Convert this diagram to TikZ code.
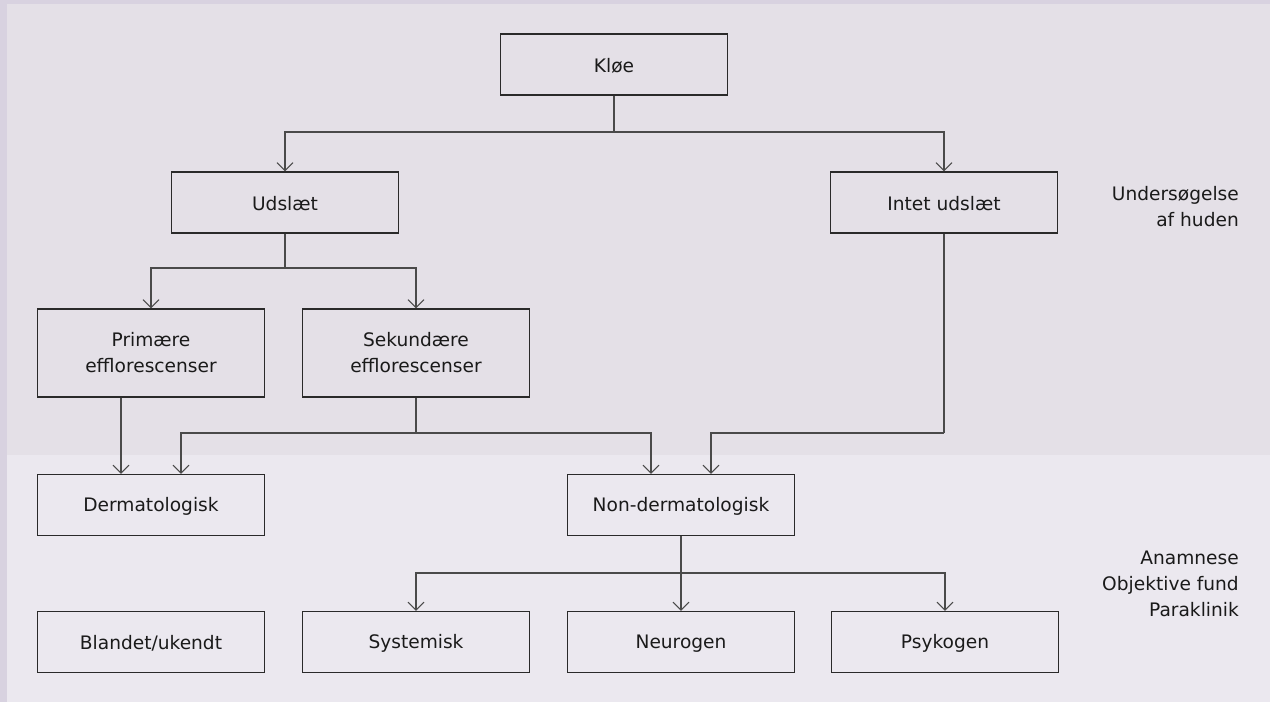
\documentclass[tikz,border=0pt]{standalone}
\usepackage{fontspec}
\setmainfont{DejaVu Sans}
\usetikzlibrary{arrows.meta,positioning}
\definecolor{outerbg}{HTML}{D8D2E0}
\definecolor{upperbg}{HTML}{E4E0E7}
\definecolor{lowerbg}{HTML}{EBE8EF}
\definecolor{linec}{HTML}{4A4A4A}
\definecolor{boxc}{HTML}{2A2A2A}
\definecolor{txt}{HTML}{1A1A1A}
\newcommand\boxstrut{\rule[-2pt]{0pt}{19pt}}
\tikzset{
  basebox/.style={draw=boxc, line width=1.1pt, minimum width=227pt, minimum height=61pt,
    inner sep=0pt, align=center, text=txt,
    font=\fontsize{18.6}{26}\selectfont},
  box/.style={basebox, execute at begin node=\boxstrut},
  tallbox/.style={basebox, minimum height=88pt},
  conn/.style={draw=linec, line width=1.1pt},
  arr/.style={conn, -{Straight Barb[length=8pt,width=16pt,line width=1.1pt]}},
  side/.style={anchor=east, align=right, text=txt, inner sep=0pt,
    font=\fontsize{18.6}{26}\selectfont}
}
\begin{document}
\begin{tikzpicture}[x=1pt,y=-1pt]
\useasboundingbox (0,0) rectangle (1270,702);
\fill[outerbg] (0,0) rectangle (1270,702);
\fill[upperbg] (7,4) rectangle (1270,455);
\fill[lowerbg] (7,455) rectangle (1270,702);

\node[box] (kloe) at (614,64.5) {Kløe};
\node[box] (udslaet) at (285,202.5) {Udslæt};
\node[box] (intet) at (944,202.5) {Intet udslæt};
\node[tallbox] (prim) at (151,353) {Primære\\efflorescenser};
\node[tallbox] (sek) at (416,353) {Sekundære\\efflorescenser};
\node[box] (derm) at (151,505) {Dermatologisk};
\node[box] (nonderm) at (681,505) {Non-dermatologisk};
\node[box] (bland) at (151,642) {Blandet/ukendt};
\node[box] (syst) at (416,642) {Systemisk};
\node[box] (neuro) at (681,642) {Neurogen};
\node[box] (psyk) at (945,642) {Psykogen};

\node[side] (sideA) at (1239,207) {Undersøgelse\\af huden};
\node[side] (sideB) at (1239,584) {Anamnese\\Objektive fund\\Paraklinik};

\coordinate (j1) at (614,132);
\coordinate (j2) at (285,268);
\coordinate (j3) at (416,433);
\coordinate (j4) at (944,433);
\coordinate (j5) at (681,573);

\draw[conn] (kloe.south) -- (j1);
\draw[arr] (j1) -| (udslaet.north);
\draw[arr] (j1) -| (intet.north);

\draw[conn] (udslaet.south) -- (j2);
\draw[arr] (j2) -| (prim.north);
\draw[arr] (j2) -| (sek.north);

\draw[arr] ([xshift=-30pt]prim.south) -- ([xshift=-30pt]derm.north);
\draw[conn] (sek.south) -- (j3);
\draw[arr] (j3) -| ([xshift=30pt]derm.north);
\draw[arr] (j3) -| ([xshift=-30pt]nonderm.north);

\draw[conn] (intet.south) -- (j4);
\draw[arr] (j4) -| ([xshift=30pt]nonderm.north);

\draw[conn] (nonderm.south) -- (j5);
\draw[arr] (j5) -| (syst.north);
\draw[arr] (j5) -- (neuro.north);
\draw[arr] (j5) -| (psyk.north);
\end{tikzpicture}
\end{document}
